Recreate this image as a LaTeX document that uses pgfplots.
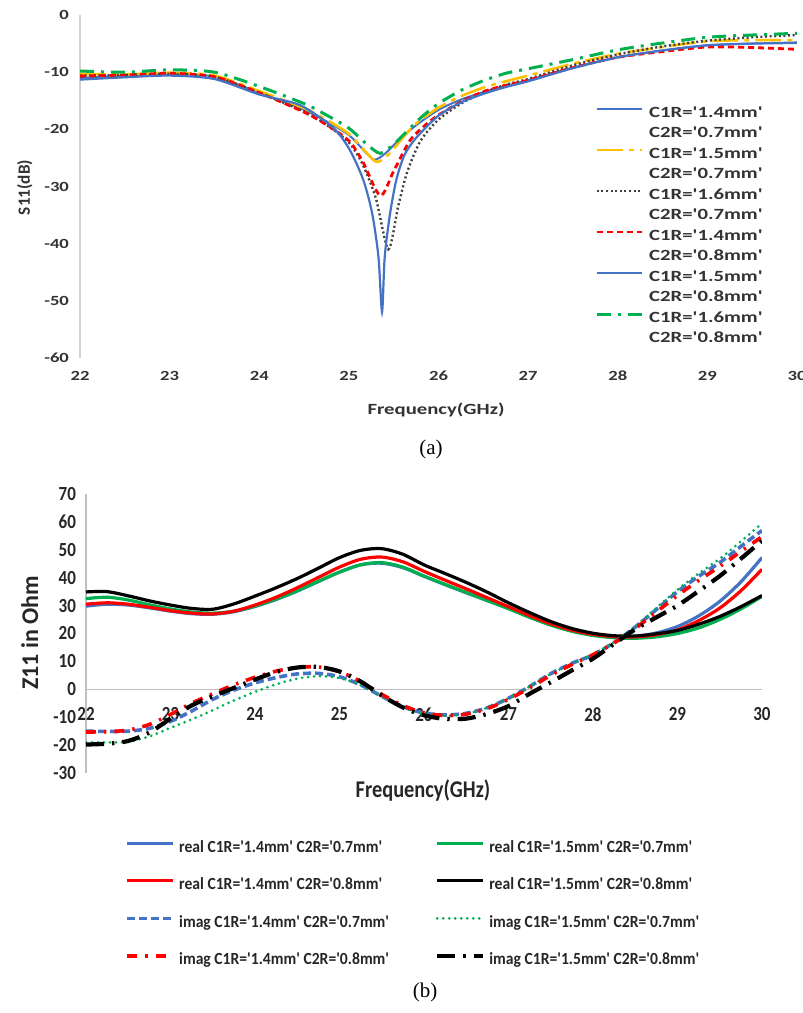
\documentclass[border=0pt]{standalone}
\usepackage{fontspec}
\setmainfont{Carlito}
\newfontfamily\topf{Carlito}[FakeStretch=1.33]
\newfontfamily\botf{Carlito}[FakeStretch=0.85]
\newfontfamily\legf{Carlito}[FakeStretch=0.92]
\newfontfamily\serf{Liberation Serif}
\usepackage{pgfplots}
\pgfplotsset{compat=1.18}
\definecolor{xblue}{HTML}{4472C4}
\definecolor{xyellow}{HTML}{FFC000}
\definecolor{xred}{HTML}{FF0000}
\definecolor{xgreen}{HTML}{00B050}
\definecolor{xdot}{HTML}{404040}
\definecolor{axgray}{HTML}{BFBFBF}
\begin{document}
\begin{tikzpicture}
\useasboundingbox (0pt,0pt) rectangle (401.5pt,506.5pt);
% ---------------- (a) ----------------
\begin{axis}[
  at={(40pt,327.5pt)}, anchor=south west,
  scale only axis, width=358.5pt, height=171.5pt,
  xmin=22, xmax=30, ymin=-60, ymax=0,
  xtick={22,23,...,30}, ytick={-60,-50,...,0},
  axis x line=bottom, axis y line=left,
  axis line style={-},
  x axis line style={draw=none},
  y axis line style={draw=axgray!70, line width=0.8pt},
  major tick length=0pt, tick style={draw=none},
  /pgf/number format/assume math mode=true,
  ticklabel style={font=\topf\bfseries\fontsize{7}{8}\selectfont, text=black!80},
  xticklabel style={yshift=-3pt},
  yticklabel style={xshift=-2pt},
  xlabel={Frequency(GHz)},
  xlabel style={at={(axis description cs:0.4965,-0.152)}, anchor=center, font=\topf\bfseries\fontsize{7.8}{9}\selectfont, text=black!80},
  ylabel={S11(dB)},
  ylabel style={at={(axis description cs:-0.077,0.497)}, anchor=center, font=\bfseries\fontsize{8.6}{10}\selectfont, text=black!80},
  legend cell align=left,
  legend image code/.code={\path[draw=none,fill=none] (0pt,-0.5pt) rectangle (22.5pt,4.5pt); \draw[#1] (0pt,2.2pt) -- (22.5pt,2.2pt);},
  legend style={at={(axis description cs:0.718,0.7405)}, anchor=north west, draw=none, fill=none,
    inner sep=0pt, row sep=2.15pt,
    nodes={inner sep=0pt, text height=6pt, text depth=1.8pt},
    /tikz/every odd column/.append style={column sep=3pt},
    font=\topf\bfseries\fontsize{7.8}{9.8}\selectfont, text=black!80},
  every axis plot/.append style={smooth, tension=0.45},
]
\addplot[xblue, line width=1pt] coordinates {
(22,-11.0) (22.5,-10.6) (23,-10.3) (23.5,-10.8) (24,-13.6) (24.5,-16.6) (24.75,-18.6) (25,-21.0) (25.15,-23.4) (25.28,-25.3) (25.4,-24.3) (25.55,-22.0) (25.75,-19.3) (26,-16.6) (26.25,-14.8) (26.5,-13.5) (26.75,-12.4) (27,-11.4) (27.5,-9.2) (28,-7.4) (28.5,-6.2) (29,-5.3) (29.5,-5.0) (30,-4.8)};
\addlegendentry{C1R='1.4mm'}
\addlegendimage{empty legend}\addlegendentry{C2R='0.7mm'}
\addplot[xyellow, line width=1.3pt, dash pattern=on 13pt off 3pt on 2.5pt off 3pt] coordinates {
(22,-10.3) (22.5,-10.4) (23,-10.1) (23.5,-10.6) (24,-13.3) (24.5,-16.3) (24.75,-18.3) (25,-20.8) (25.15,-23.3) (25.31,-25.7) (25.45,-24.3) (25.6,-21.5) (25.75,-19.0) (26,-16.2) (26.25,-14.2) (26.5,-12.7) (26.75,-11.6) (27,-10.6) (27.5,-8.5) (28,-6.8) (28.5,-5.6) (29,-4.6) (29.5,-4.4) (30,-4.4)};
\addlegendentry{C1R='1.5mm'}
\addlegendimage{empty legend}\addlegendentry{C2R='0.7mm'}
\addplot[xdot, line width=1.2pt, dash pattern=on 1pt off 1.3pt] coordinates {
(22,-10.6) (22.5,-10.5) (23,-10.3) (23.5,-10.8) (24,-13.6) (24.5,-16.9) (24.75,-19.2) (25,-22.3) (25.15,-26.0) (25.3,-32.0) (25.44,-41.0) (25.55,-33.5) (25.65,-27.5) (25.8,-22.0) (26,-18.3) (26.25,-15.5) (26.5,-13.6) (26.75,-12.2) (27,-11.2) (27.5,-8.8) (28,-6.9) (28.5,-5.5) (29,-4.5) (29.5,-3.9) (30,-3.5)};
\addlegendentry{C1R='1.6mm'}
\addlegendimage{empty legend}\addlegendentry{C2R='0.7mm'}
\addplot[xred, line width=1.4pt, dash pattern=on 3pt off 2pt] coordinates {
(22,-10.7) (22.5,-10.5) (23,-10.2) (23.5,-10.8) (24,-13.6) (24.5,-17.0) (24.75,-19.2) (25,-22.0) (25.15,-25.5) (25.35,-31.6) (25.5,-27.3) (25.68,-22.0) (25.85,-19.3) (26,-17.5) (26.25,-15.2) (26.5,-13.4) (26.75,-12.3) (27,-11.4) (27.5,-9.2) (28,-7.4) (28.5,-6.4) (29,-5.6) (29.5,-5.7) (30,-6.0)};
\addlegendentry{C1R='1.4mm'}
\addlegendimage{empty legend}\addlegendentry{C2R='0.8mm'}
\addplot[xblue, line width=1.1pt] coordinates {
(22,-11.3) (22.5,-10.9) (23,-10.6) (23.5,-11.2) (24,-13.9) (24.46,-15.8) (24.83,-19.8) (25.01,-23.6) (25.16,-28.8) (25.26,-34.7) (25.33,-42.3) (25.37,-51.9) (25.40,-42.3) (25.46,-34.7) (25.53,-28.8) (25.62,-24.5) (25.75,-21.5) (26,-17.6) (26.25,-15.3) (26.5,-13.8) (26.75,-12.6) (27,-11.6) (27.5,-9.3) (28,-7.4) (28.5,-6.2) (29,-5.3) (29.5,-5.0) (30,-4.9)};
\addlegendentry{C1R='1.5mm'}
\addlegendimage{empty legend}\addlegendentry{C2R='0.8mm'}
\addplot[xgreen, line width=1.5pt, dash pattern=on 7pt off 3.5pt on 1.5pt off 3.5pt] coordinates {
(22,-9.8) (22.5,-10.0) (23,-9.6) (23.5,-10.0) (24,-12.5) (24.5,-15.5) (24.75,-17.5) (25,-19.8) (25.2,-22.6) (25.35,-24.2) (25.5,-22.6) (25.65,-20.3) (25.8,-18.0) (26,-15.5) (26.25,-13.2) (26.5,-11.5) (26.75,-10.2) (27,-9.4) (27.5,-7.8) (28,-6.1) (28.5,-4.9) (29,-3.9) (29.5,-3.5) (30,-3.2)};
\addlegendentry{C1R='1.6mm'}
\addlegendimage{empty legend}\addlegendentry{C2R='0.8mm'}
\end{axis}
\node[font=\serf\fontsize{10.5}{12}\selectfont] at (215.5pt,282pt) {(a)};
% ---------------- (b) ----------------
\begin{axis}[
  at={(43pt,120pt)}, anchor=south west,
  scale only axis, width=338pt, height=139.5pt,
  xmin=22, xmax=30, ymin=-30, ymax=70,
  xtick={22,23,...,30}, ytick={-30,-20,...,70},
  axis x line=middle, axis y line=left,
  axis line style={-, draw=axgray, line width=0.8pt},
  hide obscured x ticks=false, hide obscured y ticks=false,
  major tick length=0pt, tick style={draw=none},
  /pgf/number format/assume math mode=true,
  ticklabel style={font=\botf\bfseries\fontsize{10}{12}\selectfont, text=black!85},
  xticklabel style={anchor=north, yshift=-5.5pt},
  yticklabel style={anchor=east, xshift=-1.5pt},
  xlabel={Frequency(GHz)},
  xlabel style={at={(axis description cs:0.4985,-0.061)}, anchor=center, font=\botf\bfseries\fontsize{12}{14}\selectfont, text=black!85},
  ylabel={Z11 in Ohm},
  ylabel style={at={(axis description cs:-0.083,0.502)}, anchor=center, font=\bfseries\fontsize{12}{14}\selectfont, text=black!85},
  legend columns=2,
  legend cell align=left,
  legend image code/.code={\path[draw=none,fill=none] (0pt,-0.5pt) rectangle (23pt,4.5pt); \draw[#1] (0pt,2.3pt) -- (23pt,2.3pt);},
  legend style={at={(axis description cs:0.058,-0.235)}, anchor=north west, draw=none, fill=none,
    inner sep=0pt, row sep=10pt,
    nodes={inner sep=0pt, text height=6.5pt, text depth=2pt},
    /tikz/every odd column/.append style={column sep=2pt},
    /tikz/every even column/.append style={column sep=23pt},
    font=\legf\bfseries\fontsize{8.5}{10}\selectfont, text=black!85},
  every axis plot/.append style={smooth, tension=0.5},
]
\addplot[xblue, line width=1.6pt] coordinates {
(22.0,29.8) (22.25,30.5) (22.5,30.2) (22.75,29.2) (23.0,28.0) (23.25,27.1) (23.5,26.9) (23.75,27.8) (24.0,29.7) (24.25,32.2) (24.5,35.2) (24.75,38.6) (25.0,42.0) (25.25,44.6) (25.5,45.2) (25.75,43.6) (26.0,40.5) (26.25,37.5) (26.5,34.6) (26.75,31.8) (27.0,29.0) (27.25,26.0) (27.5,23.2) (27.75,21.0) (28.0,19.6) (28.25,18.9) (28.5,19.0) (28.75,20.2) (29.0,22.5) (29.25,26.3) (29.5,31.5) (29.75,38.5) (30.0,47.2)};
\addlegendentry{real C1R='1.4mm' C2R='0.7mm'}
\addplot[xgreen, line width=1.6pt] coordinates {
(22.0,32.5) (22.25,33.0) (22.5,32.0) (22.75,30.3) (23.0,28.8) (23.25,27.7) (23.5,27.3) (23.75,28.0) (24.0,29.8) (24.25,32.3) (24.5,35.3) (24.75,38.7) (25.0,42.0) (25.25,44.6) (25.5,45.4) (25.75,43.8) (26.0,40.6) (26.25,37.6) (26.5,34.7) (26.75,31.8) (27.0,28.9) (27.25,25.8) (27.5,23.0) (27.75,20.8) (28.0,19.3) (28.25,18.5) (28.5,18.3) (28.75,18.8) (29.0,20.0) (29.25,22.0) (29.5,25.0) (29.75,28.8) (30.0,33.3)};
\addlegendentry{real C1R='1.5mm' C2R='0.7mm'}
\addplot[xred, line width=1.6pt] coordinates {
(22.0,30.5) (22.25,31.0) (22.5,30.5) (22.75,29.4) (23.0,28.2) (23.25,27.3) (23.5,27.0) (23.75,28.0) (24.0,30.2) (24.25,33.0) (24.5,36.4) (24.75,40.1) (25.0,43.8) (25.25,46.6) (25.5,47.4) (25.75,45.7) (26.0,42.3) (26.25,39.1) (26.5,36.0) (26.75,32.8) (27.0,29.6) (27.25,26.4) (27.5,23.5) (27.75,21.2) (28.0,19.7) (28.25,18.9) (28.5,18.8) (28.75,19.6) (29.0,21.3) (29.25,24.6) (29.5,29.1) (29.75,35.3) (30.0,43.0)};
\addlegendentry{real C1R='1.4mm' C2R='0.8mm'}
\addplot[black, line width=1.6pt] coordinates {
(22.0,34.9) (22.25,35.0) (22.5,33.5) (22.75,31.7) (23.0,30.2) (23.25,29.0) (23.5,28.7) (23.75,30.6) (24.0,33.4) (24.25,36.4) (24.5,39.7) (24.75,43.4) (25.0,47.2) (25.25,49.8) (25.5,50.4) (25.75,48.4) (26.0,44.6) (26.25,41.5) (26.5,38.3) (26.75,34.8) (27.0,31.0) (27.25,27.5) (27.5,24.3) (27.75,21.8) (28.0,20.1) (28.25,19.2) (28.5,19.1) (28.75,19.9) (29.0,21.1) (29.25,23.3) (29.5,26.1) (29.75,29.6) (30.0,33.6)};
\addlegendentry{real C1R='1.5mm' C2R='0.8mm'}
\addplot[xblue, line width=1.8pt, dash pattern=on 4pt off 2pt] coordinates {
(22.0,-15.0) (22.25,-15.1) (22.5,-15.0) (22.75,-14.0) (23.0,-11.5) (23.25,-7.8) (23.5,-3.6) (23.75,-0.3) (24.0,2.3) (24.25,4.2) (24.5,5.5) (24.75,5.7) (25.0,4.5) (25.25,1.6) (25.5,-2.5) (25.75,-6.2) (26.0,-8.5) (26.25,-9.2) (26.5,-8.6) (26.75,-6.6) (27.0,-3.2) (27.25,1.0) (27.5,5.6) (27.75,9.3) (28.0,12.3) (28.25,16.8) (28.5,22.3) (28.75,28.6) (29.0,35.0) (29.25,40.5) (29.5,45.4) (29.75,51.2) (30.0,56.9)};
\addlegendentry{imag C1R='1.4mm' C2R='0.7mm'}
\addplot[xgreen, line width=1.5pt, line cap=round, dash pattern=on 0pt off 3pt] coordinates {
(22.0,-19.0) (22.25,-19.0) (22.5,-18.8) (22.75,-16.9) (23.0,-13.8) (23.25,-10.8) (23.5,-7.5) (23.75,-4.0) (24.0,-0.9) (24.25,1.8) (24.5,3.8) (24.75,4.7) (25.0,4.0) (25.25,1.5) (25.5,-2.5) (25.75,-6.4) (26.0,-8.8) (26.25,-9.5) (26.5,-8.8) (26.75,-6.6) (27.0,-3.2) (27.25,1.0) (27.5,5.5) (27.75,9.2) (28.0,12.6) (28.25,16.9) (28.5,22.6) (28.75,29.2) (29.0,35.7) (29.25,41.5) (29.5,46.8) (29.75,53.0) (30.0,59.5)};
\addlegendentry{imag C1R='1.5mm' C2R='0.7mm'}
\addplot[xred, line width=1.8pt, dash pattern=on 5pt off 4pt on 1.2pt off 4pt] coordinates {
(22.0,-15.3) (22.25,-15.2) (22.5,-14.6) (22.75,-12.6) (23.0,-9.0) (23.25,-5.0) (23.5,-1.6) (23.75,1.6) (24.0,4.3) (24.25,6.5) (24.5,7.8) (24.75,8.0) (25.0,6.3) (25.25,2.8) (25.5,-1.8) (25.75,-5.8) (26.0,-8.4) (26.25,-9.4) (26.5,-8.9) (26.75,-6.9) (27.0,-3.6) (27.25,0.5) (27.5,5.0) (27.75,8.9) (28.0,12.4) (28.25,16.6) (28.5,21.8) (28.75,27.7) (29.0,33.6) (29.25,39.0) (29.5,44.0) (29.75,49.4) (30.0,54.7)};
\addlegendentry{imag C1R='1.4mm' C2R='0.8mm'}
\addplot[black, line width=2.1pt, dash pattern=on 9pt off 4pt on 1.2pt off 4pt] coordinates {
(22.0,-19.8) (22.25,-19.5) (22.5,-18.5) (22.75,-15.5) (23.0,-10.5) (23.25,-5.8) (23.5,-2.5) (23.75,0.5) (24.0,3.5) (24.25,6.2) (24.5,7.8) (24.75,8.0) (25.0,6.4) (25.25,2.8) (25.5,-2.2) (25.75,-6.5) (26.0,-9.3) (26.25,-10.6) (26.5,-10.5) (26.75,-8.8) (27.0,-6.0) (27.25,-1.6) (27.5,2.5) (27.75,6.8) (28.0,11.0) (28.25,16.3) (28.5,21.5) (28.75,25.8) (29.0,30.0) (29.25,35.2) (29.5,40.6) (29.75,46.8) (30.0,53.3)};
\addlegendentry{imag C1R='1.5mm' C2R='0.8mm'}
\end{axis}
\node[font=\serf\fontsize{10.5}{12}\selectfont] at (212.5pt,10.5pt) {(b)};
\end{tikzpicture}
\end{document}
